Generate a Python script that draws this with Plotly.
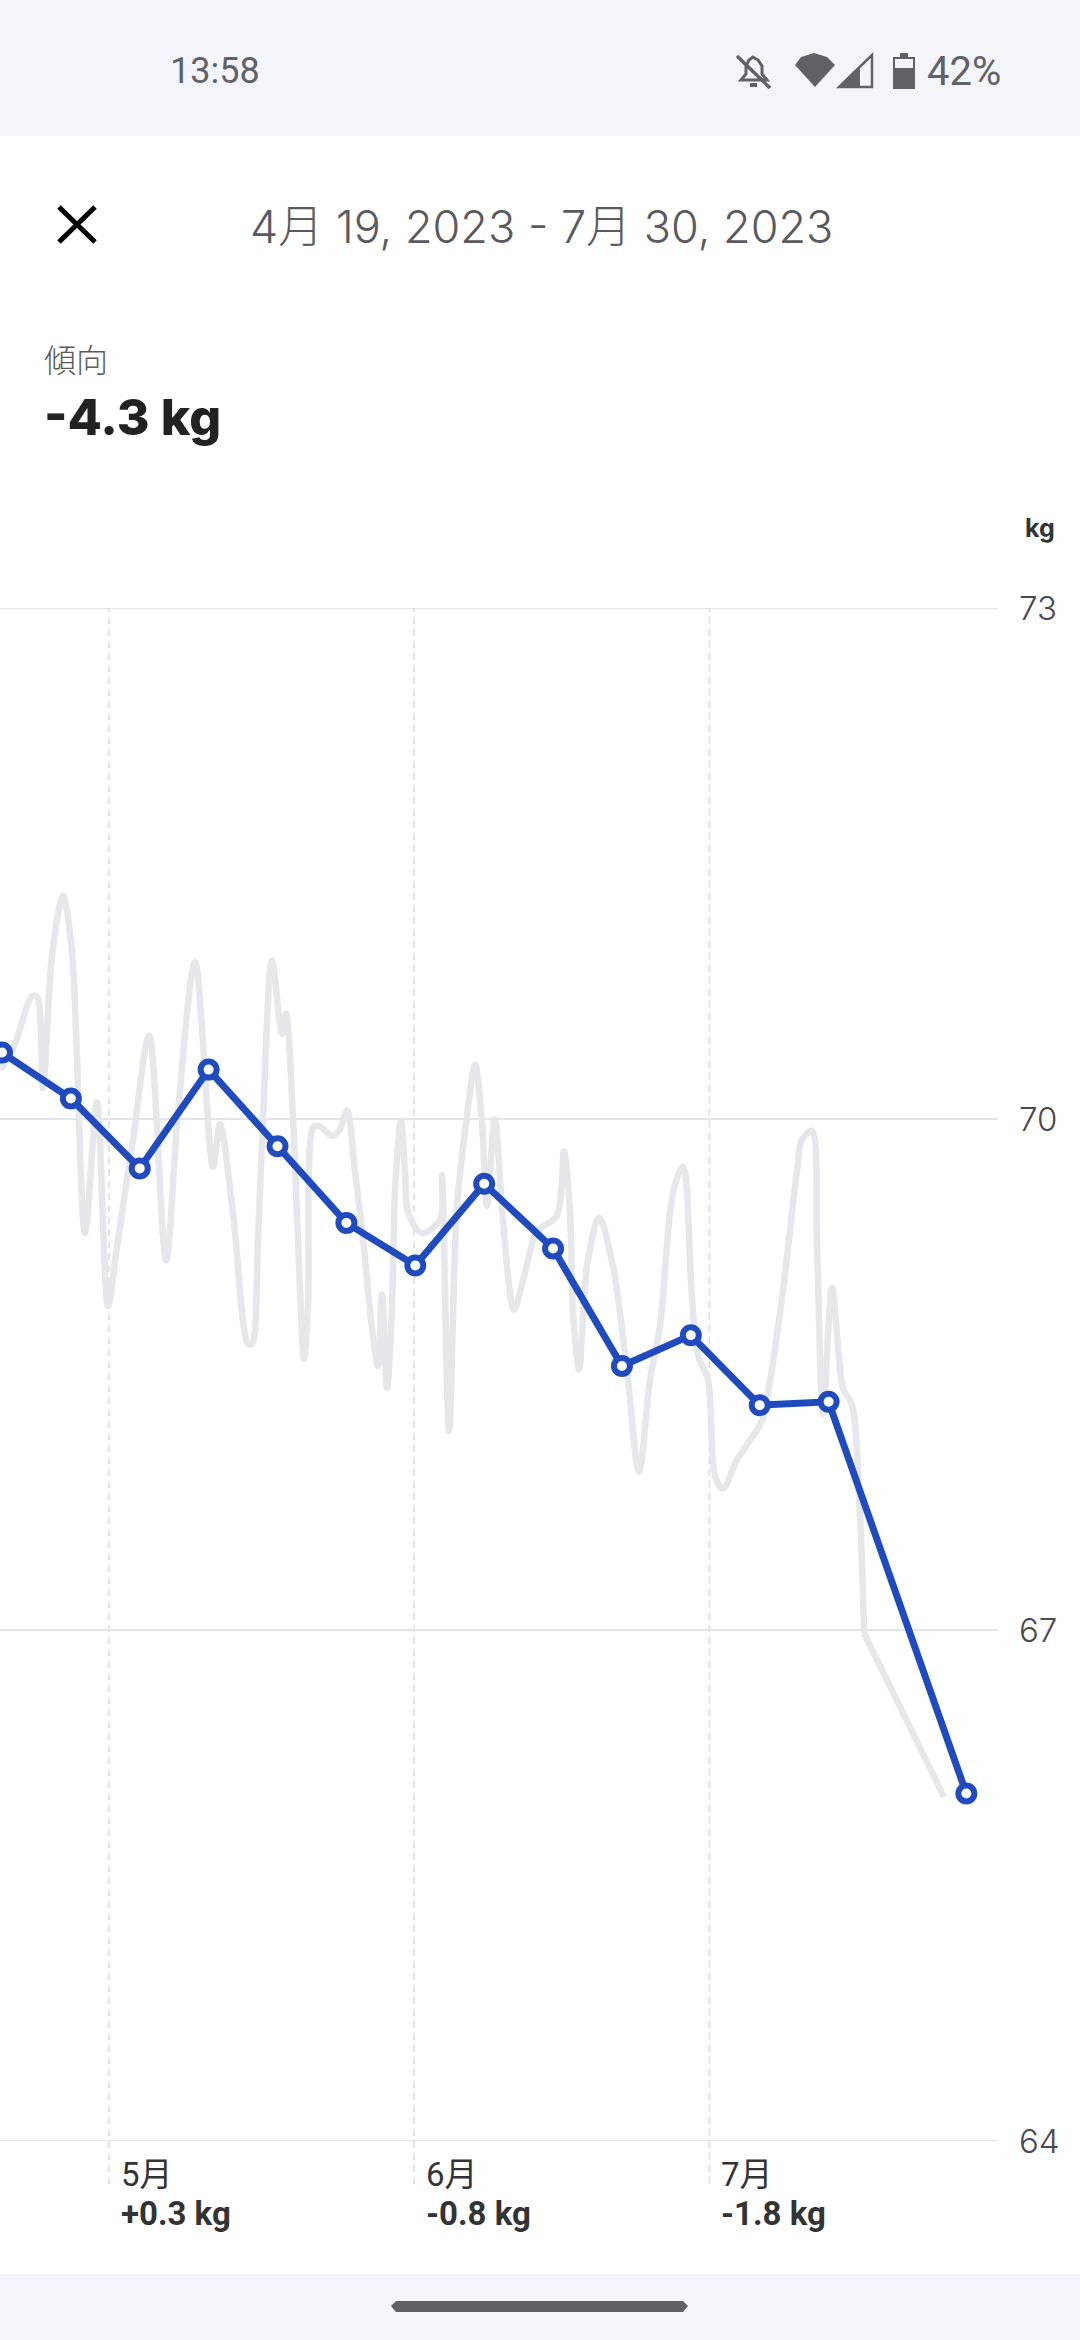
import pandas as pd
import plotly.graph_objects as go

# ---- data ----
BASE_DATE = "2023-05-01"
raw_days = [-11.08, -9.76, -7.83, -7.32, -6.71, -5.79, -4.67, -3.76, -2.44, -1.22, -0.10, 0.81, 2.44, 4.07,
            5.79, 7.01, 8.74, 10.57, 11.28, 12.6, 14.13, 14.53, 15.14, 15.65, 16.56, 17.58, 17.99, 18.7,
            19.41, 19.82, 20.22, 20.73, 21.24, 22.76, 23.48, 24.19, 25.0, 25.81, 26.73, 27.34, 27.74,
            28.25, 28.76, 29.07, 29.67, 30.08, 30.39, 31.81, 33.64, 33.84, 34.55, 35.37, 36.38, 37.2,
            37.9, 38.4, 39.2, 40.04, 41.16, 42.28, 43.5, 45.5, 46.24, 46.85, 47.15, 47.76, 48.58, 49.8,
            51.2, 52.64, 53.86, 54.98, 56.0, 57.32, 58.33, 59.25, 59.86, 60.87, 61.59, 62.4, 63.82,
            66.36, 67.17, 68.5, 69.9, 70.43, 71.44, 71.95, 72.56, 73.48, 74.6, 75.51, 76.32, 76.73]
raw_kg = [70.29, 70.41, 70.72, 70.72, 70.18, 70.96, 71.31, 70.98, 69.33, 70.10, 68.90, 69.25, 69.88, 70.49,
          69.17, 70.04, 70.92, 69.72, 69.97, 69.45, 68.68, 68.68, 69.30, 70.0, 70.93, 70.50, 70.62, 70.0,
          69.0, 68.59, 68.90, 69.95, 69.96, 69.90, 69.94, 70.05, 69.69, 69.30, 68.77, 68.55, 68.97,
          68.42, 68.90, 69.59, 69.99, 69.69, 69.45, 69.33, 69.41, 69.67, 68.17, 69.49, 70.02, 70.32,
          69.98, 69.49, 70.0, 69.40, 68.88, 69.1, 69.34, 69.43, 69.81, 69.45, 68.87, 68.53, 69.14, 69.42,
          69.14, 68.52, 67.93, 68.47, 68.79, 69.57, 69.72, 68.94, 68.61, 68.47, 67.90, 67.83, 68.0,
          68.23, 68.46, 69.0, 69.69, 69.88, 69.93, 69.24, 68.27, 69.01, 68.42, 68.32, 67.67, 66.98]
tail_days = [76.73, 84.86]
tail_kg = [66.98, 66.02]

trend_dates = ["2023-04-20 03:00", "2023-04-27 03:00", "2023-05-04 03:00", "2023-05-11 03:00", "2023-05-18 03:00",
               "2023-05-25 03:00", "2023-06-01 03:00", "2023-06-08 03:00", "2023-06-15 03:00", "2023-06-22 03:00",
               "2023-06-29 03:00", "2023-07-06 03:00", "2023-07-13 03:00", "2023-07-27 03:00"]
trend_kg = [70.39, 70.12, 69.71, 70.29, 69.84, 69.39, 69.14, 69.62, 69.24, 68.55, 68.73, 68.32, 68.34, 66.04]

month_starts = ["2023-05-01", "2023-06-01", "2023-07-01"]
month_labels = ["5月", "6月", "7月"]
month_changes = ["+0.3 kg", "-0.8 kg", "-1.8 kg"]
y_ticks = [64, 67, 70, 73]

TITLE = "4月 19, 2023 - 7月 30, 2023"
KPI_LABEL = "傾向"
KPI_VALUE = "-4.3 kg"
UNIT = "kg"
CLOCK = "13:58"
BATTERY = "42%"

# ---- geometry of the page ----
W, H = 1080, 2340
L, R, T, B = 0, 998, 608, 2141
CJK = "Noto Sans CJK JP"


def px(x):
    return (x - L) / (R - L)


def py(y):
    return (B - y) / (B - T)


def path(points, close=True):
    s = " ".join(("M" if i == 0 else "L") + f"{px(x):.5f},{py(y):.5f}" for i, (x, y) in enumerate(points))
    return s + (" Z" if close else "")


def to_dates(days):
    return pd.Timestamp(BASE_DATE) + pd.to_timedelta(days, unit="D")


fig = go.Figure()
fig.add_trace(go.Scatter(x=to_dates(raw_days), y=raw_kg, mode="lines",
                         line=dict(color="#E6E7EB", width=6.5, shape="spline", smoothing=0.9), hoverinfo="skip"))
fig.add_trace(go.Scatter(x=to_dates(tail_days), y=tail_kg, mode="lines",
                         line=dict(color="#E6E7EB", width=6.5), hoverinfo="skip"))
fig.add_trace(go.Scatter(x=trend_dates, y=trend_kg, mode="lines+markers",
                         line=dict(color="#1F4BBF", width=7),
                         marker=dict(size=16, color="white", line=dict(color="#1F4BBF", width=6)),
                         hoverinfo="skip"))

shapes = []
# system bars
shapes.append(dict(type="rect", xref="paper", yref="paper", x0=px(0), x1=px(W), y0=py(0), y1=py(136),
                   fillcolor="#F4F5FA", line_width=0, layer="below"))
shapes.append(dict(type="rect", xref="paper", yref="paper", x0=px(0), x1=px(W), y0=py(2274), y1=py(H),
                   fillcolor="#F4F5FA", line_width=0, layer="below"))
shapes.append(dict(type="path", xref="paper", yref="paper",
                   path=path([(396, 2301), (683, 2301), (688, 2306), (683, 2312), (396, 2312), (391, 2306)]),
                   fillcolor="#5F6064", line_width=0))
# plotly leaves out gridlines on the range edges, so the outer two are drawn from the tick values
for v in (y_ticks[0], y_ticks[-1]):
    shapes.append(dict(type="line", xref="paper", yref="y", x0=0, x1=1, y0=v, y1=v,
                       line=dict(color="#E4E5E8", width=2), layer="below"))
# month separators
for d in month_starts:
    shapes.append(dict(type="line", xref="x", yref="paper", x0=d, x1=d, y0=py(2184), y1=1,
                       line=dict(color="#DCDDE0", width=1.5, dash="7px,5px"), layer="below"))
# close icon
shapes.append(dict(type="line", xref="paper", yref="paper", x0=px(59), x1=px(95), y0=py(207), y1=py(242),
                   line=dict(color="black", width=5)))
shapes.append(dict(type="line", xref="paper", yref="paper", x0=px(95), x1=px(59), y0=py(207), y1=py(242),
                   line=dict(color="black", width=5)))
# status icons
ICON = "#5F6368"
shapes.append(dict(type="path", xref="paper", yref="paper",
                   path=path([(741, 80), (746, 74), (746, 66), (749, 60), (753, 57), (758, 60), (762, 66), (762, 74),
                              (767, 80)]) ,
                   line=dict(color=ICON, width=3), fillcolor="rgba(0,0,0,0)"))
shapes.append(dict(type="line", xref="paper", yref="paper", x0=px(737), x1=px(770), y0=py(56), y1=py(88),
                   line=dict(color=ICON, width=3.5)))
shapes.append(dict(type="rect", xref="paper", yref="paper", x0=px(750), x1=px(757), y0=py(83), y1=py(87),
                   fillcolor=ICON, line_width=0))
shapes.append(dict(type="path", xref="paper", yref="paper",
                   path=path([(795, 65), (801, 57), (814, 53), (827, 57), (835, 65), (815, 87)]),
                   fillcolor=ICON, line_width=0))
shapes.append(dict(type="path", xref="paper", yref="paper",
                   path=path([(872, 55), (872, 87), (839, 87)]),
                   fillcolor="rgba(0,0,0,0)", line=dict(color=ICON, width=2.5)))
shapes.append(dict(type="path", xref="paper", yref="paper",
                   path=path([(860, 68), (860, 87), (839, 87)]),
                   fillcolor=ICON, line_width=0))
shapes.append(dict(type="rect", xref="paper", yref="paper", x0=px(894), x1=px(914), y0=py(58), y1=py(88),
                   fillcolor="rgba(0,0,0,0)", line=dict(color=ICON, width=2)))
shapes.append(dict(type="rect", xref="paper", yref="paper", x0=px(894), x1=px(914), y0=py(68), y1=py(88),
                   fillcolor=ICON, line_width=0))
shapes.append(dict(type="rect", xref="paper", yref="paper", x0=px(900), x1=px(908), y0=py(53), y1=py(58),
                   fillcolor=ICON, line_width=0))


def text(x, y, s, family, size, color, anchor="left", weight=400):
    return dict(xref="paper", yref="paper", x=px(x), y=py(y), text=s, showarrow=False, xanchor=anchor,
                yanchor="middle", align=anchor, font=dict(family=family, size=size, color=color, weight=weight))


annotations = [
    text(168, 71, CLOCK, "Roboto", 36, "#5F6368"),
    text(925, 71, BATTERY, "Roboto", 40, "#5F6368"),
    text(541, 227, TITLE, f"Inter, {CJK}", 45, "#5A5A5F", anchor="center", weight=300),
    text(42, 358, KPI_LABEL, f"{CJK}", 32, "#5A5A5E", weight=300),
    text(42, 417, KPI_VALUE, "Inter", 50, "#222222", weight=800),
    text(1057, 528, UNIT, "Inter", 25, "#333333", anchor="right", weight=700),
]
for d, label, change in zip(month_starts, month_labels, month_changes):
    annotations.append(dict(xref="x", yref="paper", x=d, y=py(2174), text=label, showarrow=False, xanchor="left",
                            xshift=10, yanchor="middle",
                            font=dict(family=f"Roboto, {CJK}", size=33, color="#333333")))
    annotations.append(dict(xref="x", yref="paper", x=d, y=py(2213), text=change, showarrow=False, xanchor="left",
                            xshift=10, yanchor="middle",
                            font=dict(family="Roboto", size=33, color="#333333", weight=700)))

fig.update_layout(
    width=W, height=H, autosize=False, showlegend=False,
    margin=dict(l=L, r=W - R, t=T, b=H - B, pad=0),
    paper_bgcolor="white", plot_bgcolor="white",
    hovermode=False,
    shapes=shapes, annotations=annotations,
    xaxis=dict(type="date", range=["2023-04-19 22:09", "2023-07-30 08:10"], showgrid=False, zeroline=False,
               showline=False, showticklabels=False, ticks="", fixedrange=True),
    yaxis=dict(range=[64, 73], side="right", tickmode="array", tickvals=y_ticks, ticktext=[str(v) for v in y_ticks],
               showgrid=True, gridcolor="#E4E5E8", gridwidth=2, zeroline=False, showline=False, ticks="",
               ticklabelstandoff=20, tickfont=dict(family="Inter", size=33, color="#4A4A4E", weight=300),
               fixedrange=True),
)

fig.write_html("out.html", config=dict(displayModeBar=False),
               post_script="document.body.style.margin='0';document.body.style.overflow='hidden';")
